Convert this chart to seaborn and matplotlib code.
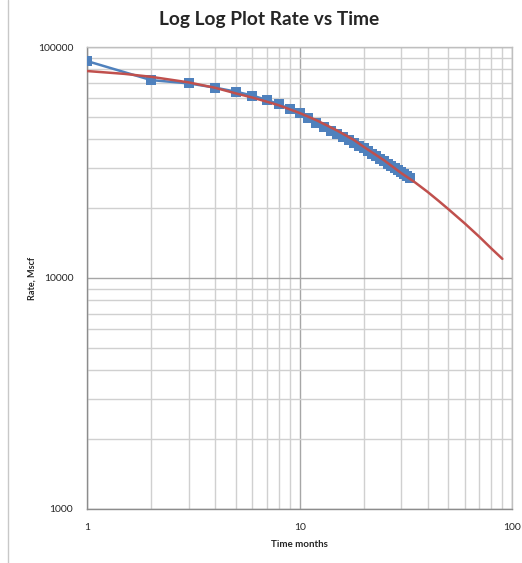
import pandas as pd
import matplotlib.pyplot as plt
import seaborn as sns
from matplotlib.ticker import LogLocator, FixedLocator, NullFormatter

# measured production (blue squares)
months = list(range(1, 34))
rate = [86900, 71900, 69600, 66700, 64100, 61600, 59000, 56500, 53900, 52000,
        49400, 46700, 45000, 43500, 42000, 40800, 39600, 38500, 37400, 36400,
        35400, 34500, 33600, 32800, 32000, 31300, 30600, 29900, 29300, 28700,
        28200, 27700, 27100]

# fitted decline curve (red)
fit_t = [1, 1.5, 2, 3, 4, 5, 6, 7, 8, 10, 12, 15, 18, 20, 25, 30, 35, 40,
         45, 50, 60, 70, 80, 90]
fit_q = [78700, 76500, 74300, 70300, 66600, 63000, 60400, 58000, 55900, 51800,
         48200, 43500, 39600, 37000, 32300, 28500, 25900, 23600, 21600, 19900,
         17200, 15100, 13400, 12100]

obs = pd.DataFrame({"t": months, "q": rate})
fit = pd.DataFrame({"t": fit_t, "q": fit_q})

sns.set_style("white")
plt.rcParams["font.family"] = ["Lato", "DejaVu Sans"]

fig = plt.figure(figsize=(5.22, 5.63), dpi=100)
ax = fig.add_axes([0.167, 0.096, 0.814, 0.8205])

sns.lineplot(data=obs, x="t", y="q", ax=ax, color="#4F81BD", linewidth=1.8,
             marker="s", markersize=6.5, markeredgewidth=0, zorder=3)
sns.lineplot(data=fit, x="t", y="q", ax=ax, color="#C0504D", linewidth=1.8,
             zorder=4)

ax.set_xscale("log")
ax.set_yscale("log")
ax.set_xlim(1, 100)
ax.set_ylim(1000, 100000)

ax.xaxis.set_major_locator(FixedLocator([1, 10, 100]))
ax.yaxis.set_major_locator(FixedLocator([1000, 10000, 100000]))
ax.xaxis.set_minor_locator(LogLocator(base=10, subs=range(2, 10)))
ax.yaxis.set_minor_locator(LogLocator(base=10, subs=range(2, 10)))
ax.xaxis.set_minor_formatter(NullFormatter())
ax.yaxis.set_minor_formatter(NullFormatter())
ax.set_xticklabels(["1", "10", "100"])
ax.set_yticklabels(["1000", "10000", "100000"])

ax.grid(which="major", color="#a6a6a6", linewidth=1.0)
ax.grid(which="minor", color="#d0d0d0", linewidth=1.0)
ax.set_axisbelow(True)
for s in ax.spines.values():
    s.set_color("#bfbfbf")
    s.set_linewidth(1.0)
ax.spines["left"].set_color("#8c8c8c")
ax.spines["bottom"].set_color("#8c8c8c")

ax.tick_params(which="major", direction="out", length=4, width=1,
               color="#8c8c8c", labelsize=7.5, pad=6)
ax.tick_params(which="minor", length=0)

ax.set_xlabel("Time months", fontsize=7, fontweight="bold", labelpad=6)
ax.set_ylabel("Rate, Mscf", fontsize=6.5, fontweight="bold")
ax.yaxis.set_label_coords(-0.118, 0.5)
fig.text(0.515, 0.965, "Log Log Plot Rate vs Time", fontsize=13.8,
         fontweight="bold", ha="center", va="center")

# worksheet edge at left of chart area
fig.add_artist(plt.Line2D([8 / 522, 8 / 522], [0, 1], color="#c8c8c8",
                          linewidth=1, transform=fig.transFigure))

fig.savefig("out.png", dpi=100)
